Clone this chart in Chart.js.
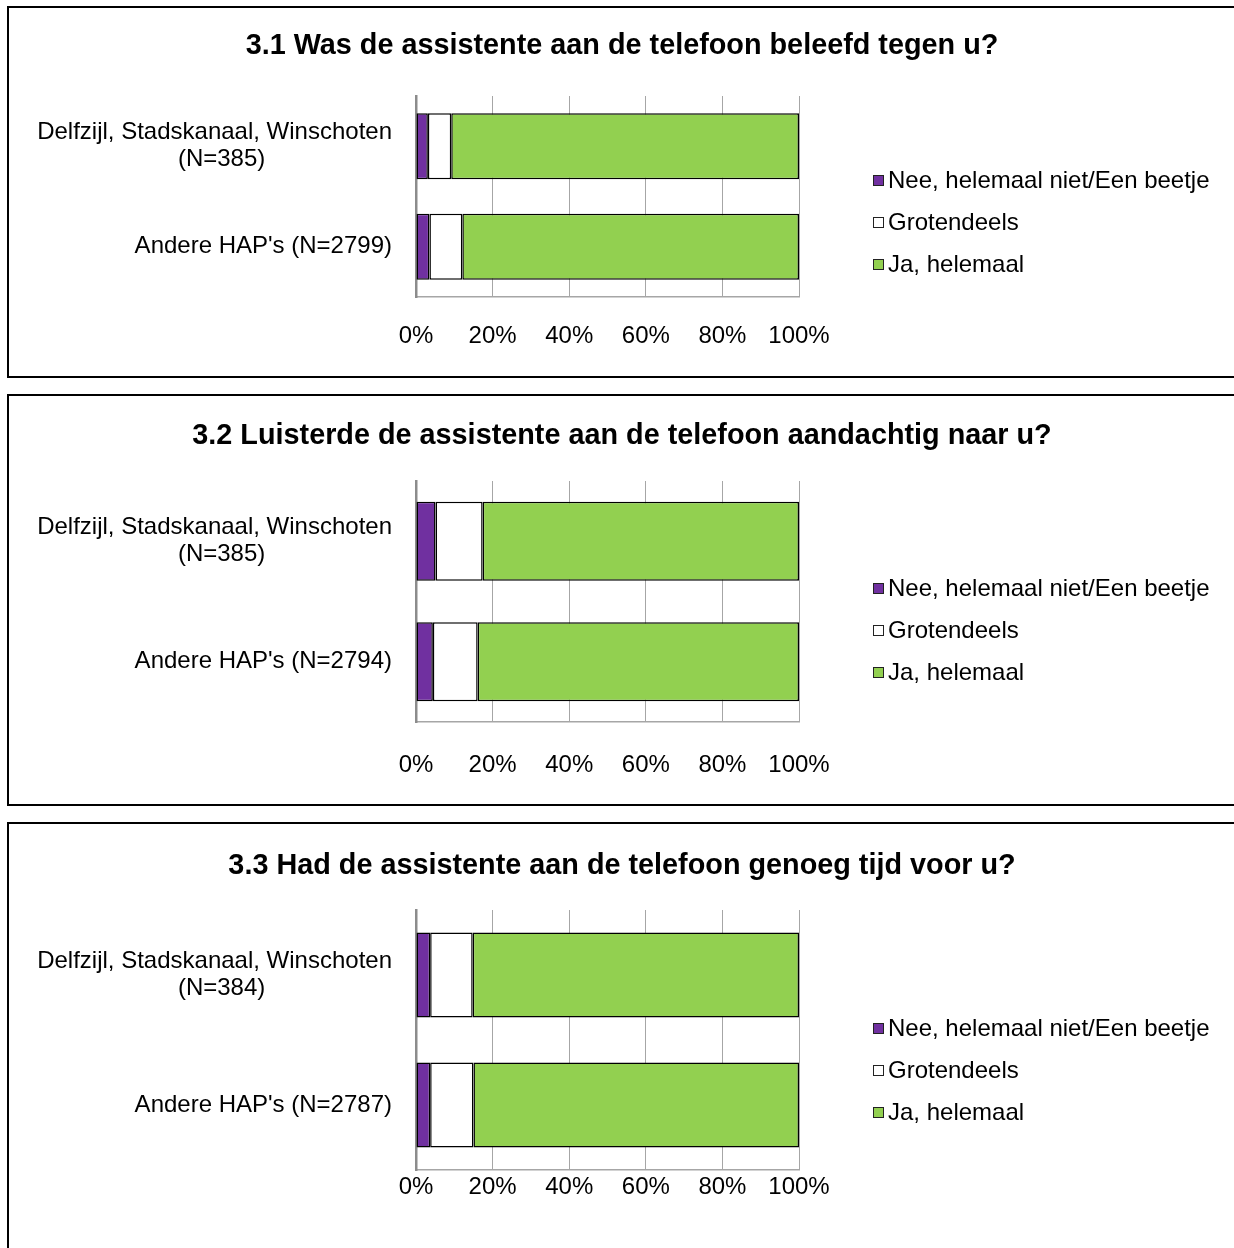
<!DOCTYPE html>
<html><head><meta charset="utf-8">
<script src="https://cdn.jsdelivr.net/npm/chart.js@4.4.0/dist/chart.umd.min.js"></script>
<style>
html,body{margin:0;padding:0;background:#fff;width:1234px;height:1248px;overflow:hidden;position:relative;}
.cv{position:absolute;left:0;width:1234px;}
.frame{position:absolute;left:7px;width:1240px;border:2px solid #000;box-sizing:border-box;pointer-events:none;}
</style></head><body>
<div class="cv" style="top:7px;height:370px"><canvas id="c1"></canvas></div>
<div class="cv" style="top:395px;height:410px"><canvas id="c2"></canvas></div>
<div class="cv" style="top:823px;height:425px"><canvas id="c3"></canvas></div>
<div class="frame" style="top:6px;height:372px"></div>
<div class="frame" style="top:394px;height:412px"></div>
<div class="frame" style="top:822px;height:440px"></div>
<script>
const seriesNames = ['Nee, helemaal niet/Een beetje', 'Grotendeels', 'Ja, helemaal'];
const xTickLabels = ['0%', '20%', '40%', '60%', '80%', '100%'];

const title1 = '3.1 Was de assistente aan de telefoon beleefd tegen u?';
const categories1 = [['Delfzijl, Stadskanaal, Winschoten', '(N=385)'], "Andere HAP's (N=2799)"];
const nee1 = [3.1, 3.5];
const groot1 = [6.1, 8.6];
const ja1 = [90.8, 87.9];

const title2 = '3.2 Luisterde de assistente aan de telefoon aandachtig naar u?';
const categories2 = [['Delfzijl, Stadskanaal, Winschoten', '(N=385)'], "Andere HAP's (N=2794)"];
const nee2 = [5.1, 4.4];
const groot2 = [12.3, 11.7];
const ja2 = [82.6, 83.9];

const title3 = '3.3 Had de assistente aan de telefoon genoeg tijd voor u?';
const categories3 = [['Delfzijl, Stadskanaal, Winschoten', '(N=384)'], "Andere HAP's (N=2787)"];
const nee3 = [3.7, 3.7];
const groot3 = [11.1, 11.3];
const ja3 = [85.2, 85.0];

const colors = ['#7030A0', '#FFFFFF', '#92D050'];
const FONT = "'Liberation Sans', Arial, sans-serif";
const PAD_SP = '                   ';

const overlay = {
  id: 'overlay',
  afterDraw(chart, args, opts) {
    const ctx = chart.ctx;
    ctx.save();
    ctx.fillStyle = '#000';
    ctx.font = 'bold 28.8px ' + FONT;
    ctx.textAlign = 'center';
    ctx.textBaseline = 'middle';
    ctx.fillText(opts.title, 622, opts.titleY);
    ctx.font = '24px ' + FONT;
    ctx.textAlign = 'left';
    chart.data.datasets.forEach((ds, i) => {
      const y = opts.legendY + (i - 1) * 42;
      ctx.fillStyle = ds.backgroundColor;
      ctx.fillRect(873, y - 5, 11, 11);
      ctx.strokeStyle = '#222';
      ctx.lineWidth = 1;
      ctx.strokeRect(873.5, y - 4.5, 10, 10);
      ctx.fillStyle = '#000';
      ctx.fillText(ds.label, 888, y + 1);
    });
    ctx.restore();
  }
};

function makeChart(id, title, cats, a, b, c, lay) {
  const labels = cats.map(l => Array.isArray(l) ? [l[0], l[1] + PAD_SP] : l);
  new Chart(document.getElementById(id), {
    type: 'bar',
    data: {
      labels: labels,
      datasets: [a, b, c].map((d, i) => ({
        label: seriesNames[i],
        data: d,
        backgroundColor: colors[i],
        borderColor: '#000',
        borderWidth: 1.5,
        borderSkipped: false,
        barPercentage: 0.655,
        categoryPercentage: 1
      }))
    },
    options: {
      indexAxis: 'y',
      responsive: true,
      maintainAspectRatio: false,
      animation: false,
      layout: { padding: { left: 0, right: 435, top: lay.top, bottom: lay.bottom } },
      plugins: {
        legend: { display: false },
        title: { display: false },
        tooltip: { enabled: false },
        overlay: { title: title, titleY: lay.titleY, legendY: lay.legendY }
      },
      scales: {
        x: {
          stacked: true,
          min: 0, max: 100,
          afterFit: s => { s.height = 60; },
          afterBuildTicks: s => { s.ticks = [0,20,40,60,80,100].map(v => ({ value: v })); },
          ticks: {
            callback: (v, i) => xTickLabels[i],
            font: { family: FONT, size: 24 },
            color: '#000',
            padding: lay.tickPad,
            maxRotation: 0
          },
          grid: { color: '#A6A6A6', lineWidth: 1, drawTicks: false },
          border: { color: '#A6A6A6', width: 1.5 }
        },
        y: {
          stacked: true,
          afterFit: s => { s.width = 416; },
          ticks: {
            font: { family: FONT, size: 24, lineHeight: 1.125 },
            color: '#000',
            padding: 24
          },
          grid: { display: false, drawTicks: false },
          border: { color: '#8C8C8C', width: 2.5 }
        }
      }
    },
    plugins: [overlay]
  });
}

makeChart('c1', title1, categories1, nee1, groot1, ja1, { top: 89, bottom: 20, tickPad: 25, titleY: 39, legendY: 215 });
makeChart('c2', title2, categories2, nee2, groot2, ja2, { top: 86, bottom: 23, tickPad: 29, titleY: 41, legendY: 235 });
makeChart('c3', title3, categories3, nee3, groot3, ja3, { top: 87, bottom: 18, tickPad: 3, titleY: 43, legendY: 247 });
</script>
</body></html>
